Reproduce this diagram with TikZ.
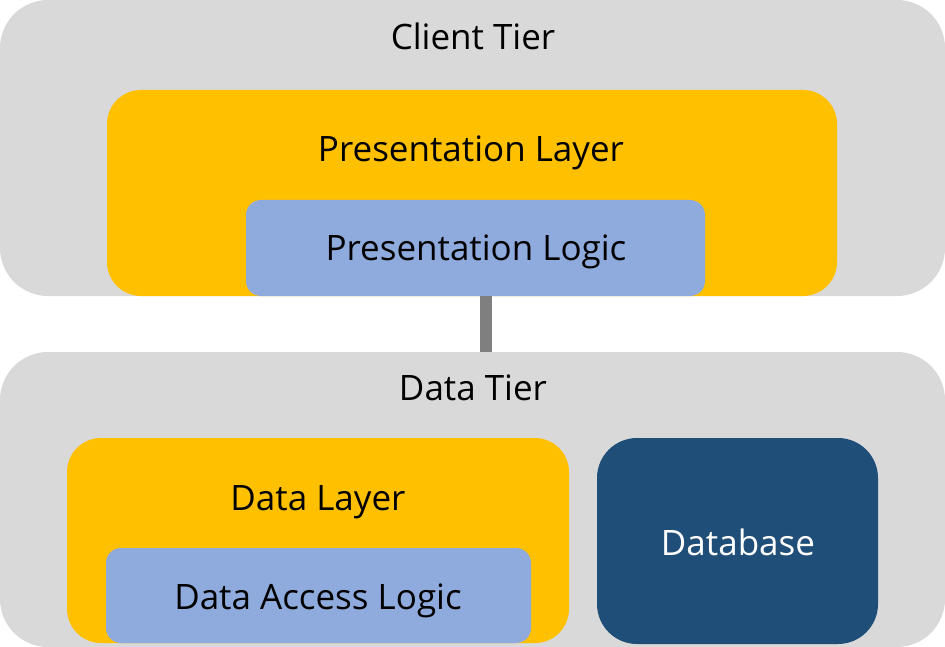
\documentclass[tikz,border=0pt]{standalone}
\usepackage{fontspec}
\setmainfont{Open Sans}
\definecolor{tiergray}{HTML}{D9D9D9}
\definecolor{layeryellow}{HTML}{FFC000}
\definecolor{logicblue}{HTML}{8FAADC}
\definecolor{dbblue}{HTML}{1F4E79}
\definecolor{conngray}{HTML}{7F7F7F}
\begin{document}
\begin{tikzpicture}[x=1pt,y=-1pt,
  box/.style={draw=none,rectangle,inner sep=0pt,outer sep=0pt},
  lbl/.style={font=\fontsize{35}{40}\selectfont,anchor=base,inner sep=0pt}]
\useasboundingbox (0,0) rectangle (945,647);
% tiers
\node[box,fill=tiergray,rounded corners=48pt,minimum width=945pt,minimum height=296pt,anchor=north west] (ctier) at (0,0) {};
\node[box,fill=tiergray,rounded corners=48pt,minimum width=945pt,minimum height=295pt,anchor=north west] (dtier) at (0,352) {};
% client tier content
\node[box,fill=layeryellow,rounded corners=34pt,minimum width=730pt,minimum height=206pt,anchor=north west] (player) at (107,90) {};
\node[box,fill=logicblue,rounded corners=15pt,minimum width=459pt,minimum height=96pt,anchor=north west] (plogic) at (246,200) {};
% data tier content
\node[box,fill=layeryellow,rounded corners=34pt,minimum width=502pt,minimum height=205pt,anchor=north west] (dlayer) at (67,438) {};
\node[box,fill=logicblue,rounded corners=15pt,minimum width=425pt,minimum height=95pt,anchor=north west] (dalogic) at (106,548) {};
\node[box,fill=dbblue,rounded corners=40pt,minimum width=281pt,minimum height=206pt,anchor=north west] (db) at (597,438) {};
% connector
\coordinate (conn) at (486,0);
\draw[conngray,line width=12pt] (plogic.south -| conn) -- (dtier.north -| conn);
% labels
\node[lbl] (tct) at (473,50) {Client Tier};
\node[lbl] (tpl) at (471,162) {Presentation Layer};
\node[lbl] (tplg) at (476,260) {Presentation Logic};
\node[lbl] (tdt) at (473,400) {Data Tier};
\node[lbl] (tdl) at (318,510) {Data Layer};
\node[lbl] (tdal) at (318,609) {Data Access Logic};
\node[lbl,text=white] (tdb) at (738,555) {Database};
\end{tikzpicture}
\end{document}
